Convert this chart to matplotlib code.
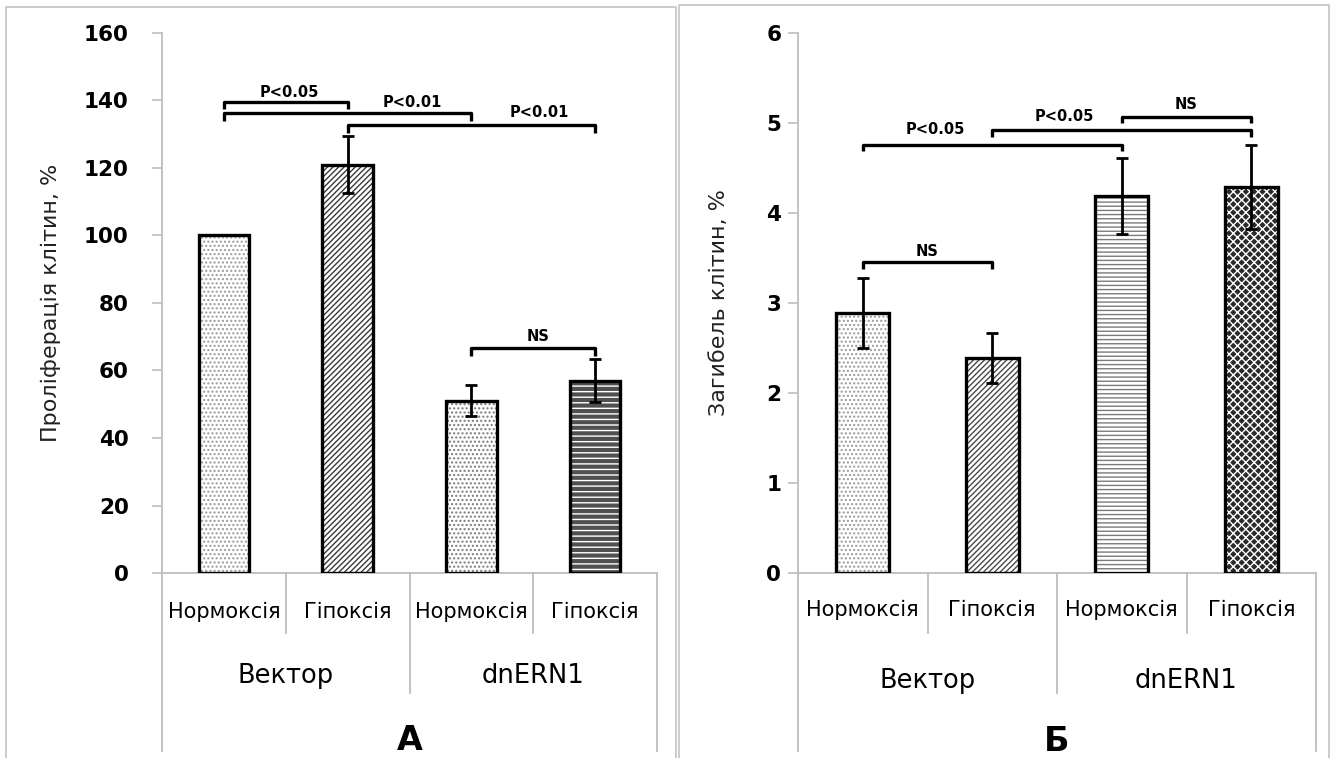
import matplotlib
matplotlib.use("Agg")
import matplotlib.pyplot as plt
from matplotlib.lines import Line2D

plt.rcParams['font.family'] = ['DejaVu Sans']
plt.rcParams['hatch.linewidth'] = 1.0

# ---------------- data ----------------
conditions = ["Нормоксія", "Гіпоксія", "Нормоксія", "Гіпоксія"]
groups = ["Вектор", "dnERN1"]

prolif_values = [100, 121, 51, 57]
prolif_errors = [0, 8.4, 4.6, 6.3]
prolif_ticks = [0, 20, 40, 60, 80, 100, 120, 140, 160]

death_values = [2.89, 2.39, 4.19, 4.29]
death_errors = [0.39, 0.28, 0.42, 0.47]
death_ticks = [0, 1, 2, 3, 4, 5, 6]

# brackets: (from bar, to bar, height, label)
prolif_brackets = [(0, 1, 139.6, "P<0.05"), (0, 2, 136.2, "P<0.01"),
                   (1, 3, 132.7, "P<0.01"), (2, 3, 66.6, "NS")]
death_brackets = [(0, 1, 3.45, "NS"), (0, 2, 4.76, "P<0.05"),
                  (1, 3, 4.92, "P<0.05"), (2, 3, 5.07, "NS")]

W, H = 1335, 758
fig = plt.figure(figsize=(W / 100, H / 100), dpi=100)

GRAY = "#bdbdbd"


def px_axes(x0, x1, y0, y1):
    return fig.add_axes([x0 / W, (H - y1) / H, (x1 - x0) / W, (y1 - y0) / H])


# panel borders
for (x0, y0, x1) in [(6, 7, 676), (679, 5, 1329)]:
    fig.add_artist(Line2D([x0 / W, x0 / W, x1 / W, x1 / W],
                          [0, (H - y0) / H, (H - y0) / H, 0],
                          transform=fig.transFigure, color="#c8c8c8", lw=1.3))

styles_left = [
    dict(face="white", hcol="#9a9a9a", hatch="...."),
    dict(face="white", hcol="#3a3a3a", hatch="//////"),
    dict(face="white", hcol="#7a7a7a", hatch="...."),
    dict(face="#505050", hcol="white", hatch="---"),
]
styles_right = [
    dict(face="white", hcol="#9a9a9a", hatch="...."),
    dict(face="white", hcol="#4a4a4a", hatch="//////"),
    dict(face="white", hcol="#7a7a7a", hatch="----"),
    dict(face="#2a2a2a", hcol="white", hatch="xxxx"),
]


def draw_panel(ax, values, errors, ticks, ylabel, brackets, drop, letter,
               styles, ymax, tick_pad, ylabel_x, text_y):
    bw = 0.41
    for i, v in enumerate(values):
        st = styles[i]
        ax.bar(i, v, bw, color=st["face"], edgecolor=st["hcol"], hatch=st["hatch"],
               linewidth=0, zorder=2)
        ax.bar(i, v, bw, fill=False, edgecolor="black", linewidth=2.4, zorder=3)
        if errors[i] > 0:
            ax.errorbar(i, v, yerr=errors[i], fmt="none", ecolor="black",
                        elinewidth=2.0, capsize=4, capthick=2.0, zorder=4)
    ax.set_xlim(-0.5, 3.5)
    ax.set_ylim(0, ymax)
    ax.set_yticks(ticks)
    ax.set_yticklabels([str(t) for t in ticks], fontsize=15.5, fontweight="bold")
    ax.tick_params(axis="y", length=7, color=GRAY, width=1.2, pad=tick_pad)
    ax.set_xticks([])
    for s in ["top", "right"]:
        ax.spines[s].set_visible(False)
    for s in ["left", "bottom"]:
        ax.spines[s].set_color(GRAY)
        ax.spines[s].set_linewidth(1.3)
    ax.set_ylabel(ylabel, fontsize=16, color="#222222")
    ax.yaxis.set_label_coords(ylabel_x, 0.5)

    tr = ax.get_xaxis_transform()
    # category separators
    seps = [(-0.5, -0.33), (0.5, -0.111), (1.5, -0.222), (2.5, -0.111), (3.5, -0.33)]
    for sx, sy in seps:
        ax.add_artist(Line2D([sx, sx], [0, sy], transform=tr, color=GRAY,
                             lw=1.3, clip_on=False))
    for i, c in enumerate(conditions):
        ax.text(i, text_y[0], c, transform=tr, ha="center", va="center",
                fontsize=15, clip_on=False)
    for g, gname in enumerate(groups):
        ax.text(2 * g + 0.5, text_y[1], gname, transform=tr, ha="center",
                va="center", fontsize=18.5, clip_on=False)
    ax.text(1.5, text_y[2], letter, transform=tr, ha="center", va="center",
            fontsize=24, fontweight="bold", clip_on=False)

    for (a, b, yv, lab) in brackets:
        ax.plot([a, a, b, b], [yv - drop, yv, yv, yv - drop], color="black",
                lw=2.4, solid_capstyle="butt", zorder=5, clip_on=False)
    return ax


axL = px_axes(162, 657, 33, 573)
draw_panel(axL, prolif_values, prolif_errors, prolif_ticks,
           "Проліферація клітин, %", prolif_brackets, 2.2, "А",
           styles_left, 160, 17, -0.204, (-0.072, -0.19, -0.31))
for (tx, ty, lab) in [(0.53, 142.5, "P<0.05"), (1.52, 139.3, "P<0.01"),
                      (2.55, 136.3, "P<0.01"), (2.54, 70.0, "NS")]:
    axL.text(tx, ty, lab, ha="center", va="center", fontsize=10.5,
             fontweight="bold", zorder=6)

axR = px_axes(798, 1316, 33, 573)
draw_panel(axR, death_values, death_errors, death_ticks,
           "Загибель клітин, %", death_brackets, 0.075, "Б",
           styles_right, 6, 5, -0.134, (-0.068, -0.2, -0.312))
for (tx, ty, lab) in [(0.50, 3.57, "NS"), (0.56, 4.93, "P<0.05"),
                      (1.56, 5.07, "P<0.05"), (2.5, 5.20, "NS")]:
    axR.text(tx, ty, lab, ha="center", va="center", fontsize=10.5,
             fontweight="bold", zorder=6)

fig.savefig("out.png", dpi=100)
